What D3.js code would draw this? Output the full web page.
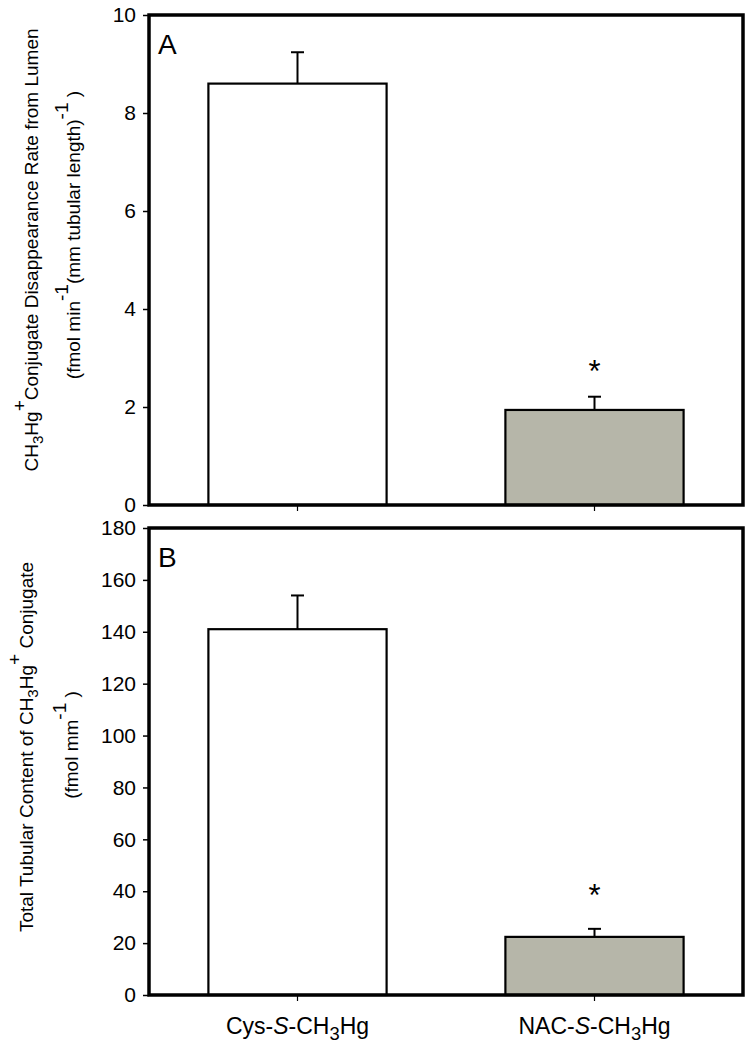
<html>
<head>
<script src="https://cdn.jsdelivr.net/npm/d3@7"></script>
<style>
	body { margin: 0; background: #fff; }
	text { font-family: "Liberation Sans", Arial, sans-serif; fill: #000; }
</style>
</head>
<body>
<div id="chart"></div>
<script>
// data
var groups = ["Cys", "NAC"];
var rateMean = [8.6, 1.94];
var rateErr = [0.64, 0.27];
var contentMean = [141, 22.4];
var contentErr = [13, 3.1];
var significant = [false, true];
var rateTicks = [0, 2, 4, 6, 8, 10];
var contentTicks = [0, 20, 40, 60, 80, 100, 120, 140, 160, 180];
var barFill = ["#ffffff", "#b6b6a9"];

var width = 753, height = 1050;
var left = 149, right = 743;

var svg = d3.select("#chart").append("svg")
	.attr("width", width)
	.attr("height", height);

var x = d3.scaleBand()
	.domain(groups)
	.range([left, right])
	.paddingInner(0.4)
	.paddingOuter(0.2);

function panel(opts) {
	var y = d3.scaleLinear().domain([0, opts.max]).range([opts.bottom, opts.top]);
	var g = svg.append("g");

	// bars
	g.selectAll("rect.bar")
		.data(opts.mean)
		.enter().append("rect")
		.attr("class", "bar")
		.attr("x", function(d, i) { return x(groups[i]); })
		.attr("width", x.bandwidth())
		.attr("y", function(d) { return y(d); })
		.attr("height", function(d) { return y(0) - y(d); })
		.attr("fill", function(d, i) { return barFill[i]; })
		.attr("stroke", "#000")
		.attr("stroke-width", 2.2);

	// error bars, upper side only
	var eb = g.selectAll("g.err")
		.data(opts.mean)
		.enter().append("g")
		.attr("class", "err")
		.attr("transform", function(d, i) { return "translate(" + (x(groups[i]) + x.bandwidth() / 2) + ",0)"; });
	eb.append("line")
		.attr("y1", function(d) { return y(d); })
		.attr("y2", function(d, i) { return y(d + opts.err[i]); })
		.attr("stroke", "#000").attr("stroke-width", 2);
	eb.append("line")
		.attr("x1", -6.5).attr("x2", 6.5)
		.attr("y1", function(d, i) { return y(d + opts.err[i]); })
		.attr("y2", function(d, i) { return y(d + opts.err[i]); })
		.attr("stroke", "#000").attr("stroke-width", 2);
	eb.filter(function(d, i) { return significant[i]; })
		.append("text")
		.attr("y", function(d, i) { return y(d + opts.err[i]) + 3; })
		.attr("text-anchor", "middle")
		.style("font-size", "31px")
		.text("*");

	// y axis
	var ya = g.append("g")
		.attr("transform", "translate(" + left + ",0)")
		.call(d3.axisLeft(y).tickValues(opts.ticks).tickSize(6).tickPadding(7));
	ya.select(".domain").remove();
	ya.selectAll(".tick line").attr("stroke-width", 1.5);
	ya.selectAll(".tick text").style("font-size", "21px").style("font-family", "Liberation Sans, Arial, sans-serif");

	// x ticks under the bars
	var xa = g.append("g")
		.attr("transform", "translate(0," + opts.bottom + ")")
		.call(d3.axisBottom(x).tickSize(6).tickFormat(""));
	xa.select(".domain").remove();
	xa.selectAll(".tick line").attr("stroke-width", 1.2);

	// frame
	g.append("rect")
		.attr("x", left).attr("y", opts.top)
		.attr("width", right - left).attr("height", opts.bottom - opts.top)
		.attr("fill", "none")
		.attr("stroke", "#000")
		.attr("stroke-width", 3.5);

	g.append("text")
		.attr("x", 158).attr("y", opts.top + 39)
		.style("font-size", "28px")
		.text(opts.label);

	return y;
}

panel({ top: 15, bottom: 505, max: 10, mean: rateMean, err: rateErr, ticks: rateTicks, label: "A" });
panel({ top: 528, bottom: 995, max: 180, mean: contentMean, err: contentErr, ticks: contentTicks, label: "B" });

// helper to write a line of text with sub/superscript pieces
function richText(sel, parts) {
	parts.forEach(function(p) {
		var t = sel.append("tspan").text(p.t);
		if (p.sub) t.attr("dy", "0.3em").style("font-size", "0.8em");
		if (p.sup) t.attr("dy", "-0.65em");
		if (p.back) t.attr("dy", p.back);
		if (p.it) t.style("font-style", "italic");
	});
}

function yTitle(cy, bx, parts) {
	var t = svg.append("text")
		.attr("transform", "translate(" + bx + "," + cy + ") rotate(-90)")
		.attr("text-anchor", "middle")
		.style("font-size", "19px");
	richText(t, parts);
}

yTitle(250, 38, [
	{ t: "CH" }, { t: "3", sub: true }, { t: "Hg", back: "-0.24em" }, { t: "+", sup: true },
	{ t: "Conjugate Disappearance Rate from Lumen", back: "0.65em" }
]);
yTitle(235, 80, [
	{ t: "(fmol min" }, { t: "-1", sup: true }, { t: "(mm tubular length)", back: "0.65em" },
	{ t: "-1", sup: true }, { t: " )", back: "0.65em" }
]);
yTitle(747, 33, [
	{ t: "Total Tubular Content of CH" }, { t: "3", sub: true }, { t: "Hg", back: "-0.24em" },
	{ t: "+", sup: true }, { t: " Conjugate", back: "0.65em" }
]);
yTitle(745, 78, [
	{ t: "(fmol mm" }, { t: "-1", sup: true }, { t: " )", back: "0.65em" }
]);

// x category labels
var xlab = [
	[{ t: "Cys-" }, { t: "S", it: true }, { t: "-CH" }, { t: "3", sub: true }, { t: "Hg", back: "-0.24em" }],
	[{ t: "NAC-" }, { t: "S", it: true }, { t: "-CH" }, { t: "3", sub: true }, { t: "Hg", back: "-0.24em" }]
];
groups.forEach(function(gname, i) {
	var t = svg.append("text")
		.attr("x", x(gname) + x.bandwidth() / 2)
		.attr("y", 1034)
		.attr("text-anchor", "middle")
		.style("font-size", "23px");
	richText(t, xlab[i]);
});
</script>
</body>
</html>
